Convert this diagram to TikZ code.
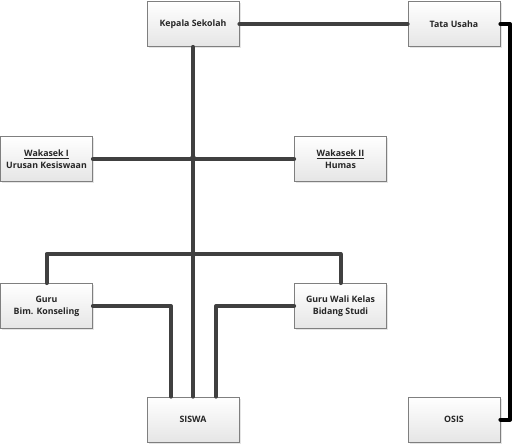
\documentclass[tikz,border=0pt]{standalone}
\usepackage{fontspec}
\setmainfont{Open Sans}
\usetikzlibrary{shadows}
\definecolor{linegray}{HTML}{404040}
\definecolor{boxborder}{HTML}{7F7F7F}
\tikzset{
  orgbox/.style={draw=boxborder, line width=0.8pt, top color=white, bottom color=black!10,
    minimum width=92pt, minimum height=45pt, inner sep=0pt, align=center,
    font=\fontsize{8.8}{12}\selectfont\bfseries, text=black!85,
    drop shadow={shadow xshift=1.5pt, shadow yshift=-1.5pt, opacity=0.25, fill=black!40}},
  conn/.style={draw=linegray, line width=4pt, line cap=round, line join=round},
  connb/.style={draw=black, line width=4pt, line cap=round, line join=round},
  jdot/.style={circle, fill=linegray, inner sep=0pt, minimum size=6pt}
}
\begin{document}
\begin{tikzpicture}[x=1pt,y=-1pt]
\useasboundingbox (0,0) rectangle (513,445);
\node[orgbox] (kepala) at (193,24) {Kepala Sekolah};
\node[orgbox] (tu) at (454,24) {Tata Usaha};
\node[orgbox] (wk1) at (46.5,159) {\underline{Wakasek I}\\Urusan Kesiswaan};
\node[orgbox] (wk2) at (340.5,159) {\underline{Wakasek II}\\Humas};
\node[orgbox] (bk) at (46.5,306) {Guru\\Bim. Konseling};
\node[orgbox] (gw) at (340.5,306) {Guru Wali Kelas\\Bidang Studi};
\node[orgbox] (siswa) at (193,419.5) {SISWA};
\node[orgbox] (osis) at (454,419.5) {OSIS};
\coordinate (j1) at (193,158);
\coordinate (j2) at (193,254);
\coordinate (rc) at (510,24);
\coordinate (rcb) at (510,419.5);
% connectors
\draw[conn] (kepala.east) -- (tu.west);
\draw[connb] (tu.east) -- (rc) -- (rcb) -- (osis.east);
\draw[conn] (kepala.south) -- (siswa.north);
\draw[conn] (wk1.east) -- (wk2.west);
\draw[conn] (bk.north) |- (j2) -| (gw.north);
\draw[conn] (bk.east) -| ([xshift=-22pt]siswa.north);
\draw[conn] (gw.west) -| ([xshift=23pt]siswa.north);
\node[jdot] at (j1) {};
\node[jdot] at (j2) {};
\end{tikzpicture}
\end{document}
